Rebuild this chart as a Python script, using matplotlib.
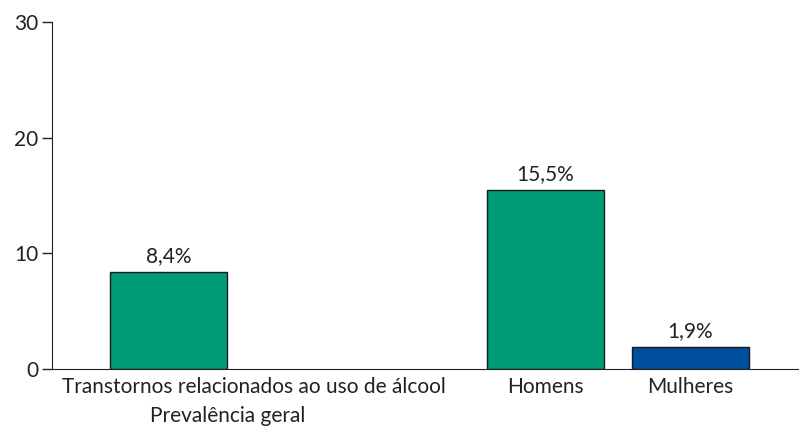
import matplotlib.pyplot as plt

# Dados do gráfico
categorias = ['Transtornos relacionados ao uso de álcool', 'Homens', 'Mulheres']
subtitulo = 'Prevalência geral'
valores = [8.4, 15.5, 1.9]
rotulos = ['8,4%', '15,5%', '1,9%']
posicoes = [0, 2.6, 3.6]
pos_rotulos = [0.59, 2.6, 3.6]
cores = ['#009B77', '#009B77', '#004F9E']

plt.rcParams['font.family'] = ['Lato', 'DejaVu Sans']
fs = 15

fig = plt.figure(figsize=(7.99, 4.29), dpi=100)
ax = fig.add_axes([0.0651, 0.1399, 0.9349, 0.8089])

ax.bar(posicoes, valores, width=0.807, color=cores, edgecolor='#1a1a1a', linewidth=1)

for x, v, r in zip(posicoes, valores, rotulos):
    ax.annotate(r, (x, v), xytext=(0, 10), textcoords='offset pixels',
                ha='center', va='baseline', fontsize=fs, color='#222222')

ax.set_ylim(0, 30)
ax.set_xlim(-0.803, 4.348)
ax.set_yticks([0, 10, 20, 30])
ax.set_xticks(pos_rotulos)
ax.set_xticklabels(categorias)
ax.tick_params(axis='x', length=0, labelsize=fs, pad=6, colors='#222222')
ax.tick_params(axis='y', length=7, labelsize=fs, pad=3, colors='#222222', width=1)
ax.annotate(subtitulo, (0.41, 0), xycoords=ax.get_xaxis_transform(),
            xytext=(0, -37), textcoords='offset pixels',
            ha='center', va='top', fontsize=fs, color='#222222')

for s in ['top', 'right']:
    ax.spines[s].set_visible(False)
ax.spines['left'].set_color('#222222')
ax.spines['bottom'].set_color('#222222')

fig.savefig('out.png', dpi=100)
